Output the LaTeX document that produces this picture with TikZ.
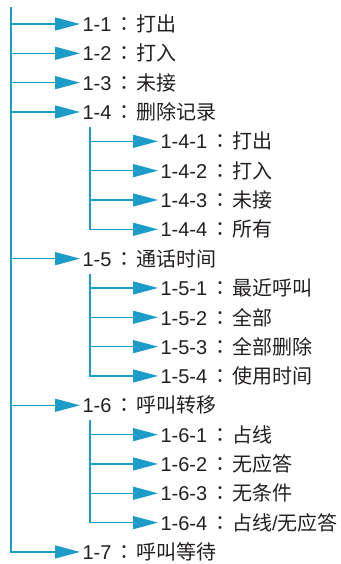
\documentclass[tikz,border=0pt]{standalone}
\usepackage{fontspec}
\setmainfont{Liberation Sans}
\newfontfamily\cjk{Noto Sans CJK SC}
\newfontfamily\cjktc{Noto Sans CJK TC}
\newcommand{\cln}{\hspace{3pt}{\cjktc ：}\hspace{2pt}\cjk}
\usetikzlibrary{arrows.meta}
\definecolor{linec}{HTML}{1E9CC8}
\definecolor{txt}{HTML}{231F20}
\begin{document}
\begin{tikzpicture}[x=1pt,y=-1pt,
  conn/.style={draw=linec,line width=1.3pt},
  arr/.style={conn,-{Triangle[length=25pt,width=13pt]}},
  item/.style={anchor=west,inner xsep=2.5pt,inner ysep=0pt,outer sep=0pt,text=txt,
    font=\fontsize{20}{24}\selectfont}]
\useasboundingbox (0,0) rectangle (340,564);
\def\dy{29.33}
% items
\node[item] (a1)  at (80,{24+0*\dy})  {1-1\cln 打出};
\node[item] (a2)  at (80,{24+1*\dy})  {1-2\cln 打入};
\node[item] (a3)  at (80,{24+2*\dy})  {1-3\cln 未接};
\node[item] (a4)  at (80,{24+3*\dy})  {1-4\cln 删除记录};
\node[item] (b41) at (158,{24+4*\dy}) {1-4-1\cln 打出};
\node[item] (b42) at (158,{24+5*\dy}) {1-4-2\cln 打入};
\node[item] (b43) at (158,{24+6*\dy}) {1-4-3\cln 未接};
\node[item] (b44) at (158,{24+7*\dy}) {1-4-4\cln 所有};
\node[item] (a5)  at (80,{24+8*\dy})  {1-5\cln 通话时间};
\node[item] (b51) at (158,{24+9*\dy}) {1-5-1\cln 最近呼叫};
\node[item] (b52) at (158,{24+10*\dy}) {1-5-2\cln 全部};
\node[item] (b53) at (158,{24+11*\dy}) {1-5-3\cln 全部删除};
\node[item] (b54) at (158,{24+12*\dy}) {1-5-4\cln 使用时间};
\node[item] (a6)  at (80,{24+13*\dy}) {1-6\cln 呼叫转移};
\node[item] (b61) at (158,{24+14*\dy}) {1-6-1\cln 占线};
\node[item] (b62) at (158,{24+15*\dy}) {1-6-2\cln 无应答};
\node[item] (b63) at (158,{24+16*\dy}) {1-6-3\cln 无条件};
\node[item] (b64) at (158,{24+17*\dy}) {1-6-4\cln 占线{\rmfamily/}无应答};
\node[item] (a7)  at (80,{24+18*\dy}) {1-7\cln 呼叫等待};
% trunk
\coordinate (top) at (11,7);
\draw[arr] (top) |- (a7.west);
\foreach \n in {a1,a2,a3,a4,a5,a6}{\draw[arr] (top |- \n.west) -- (\n.west);}
% sub trunks
\coordinate (s4) at (90,{24+3*\dy+15});
\coordinate (s5) at (90,{24+8*\dy+15});
\coordinate (s6) at (90,{24+13*\dy+15});
\draw[arr] (s4) |- (b44.west);
\draw[arr] (s5) |- (b54.west);
\draw[arr] (s6) |- (b64.west);
\foreach \n in {b41,b42,b43}{\draw[arr] (s4 |- \n.west) -- (\n.west);}
\foreach \n in {b51,b52,b53}{\draw[arr] (s5 |- \n.west) -- (\n.west);}
\foreach \n in {b61,b62,b63}{\draw[arr] (s6 |- \n.west) -- (\n.west);}
\end{tikzpicture}
\end{document}
